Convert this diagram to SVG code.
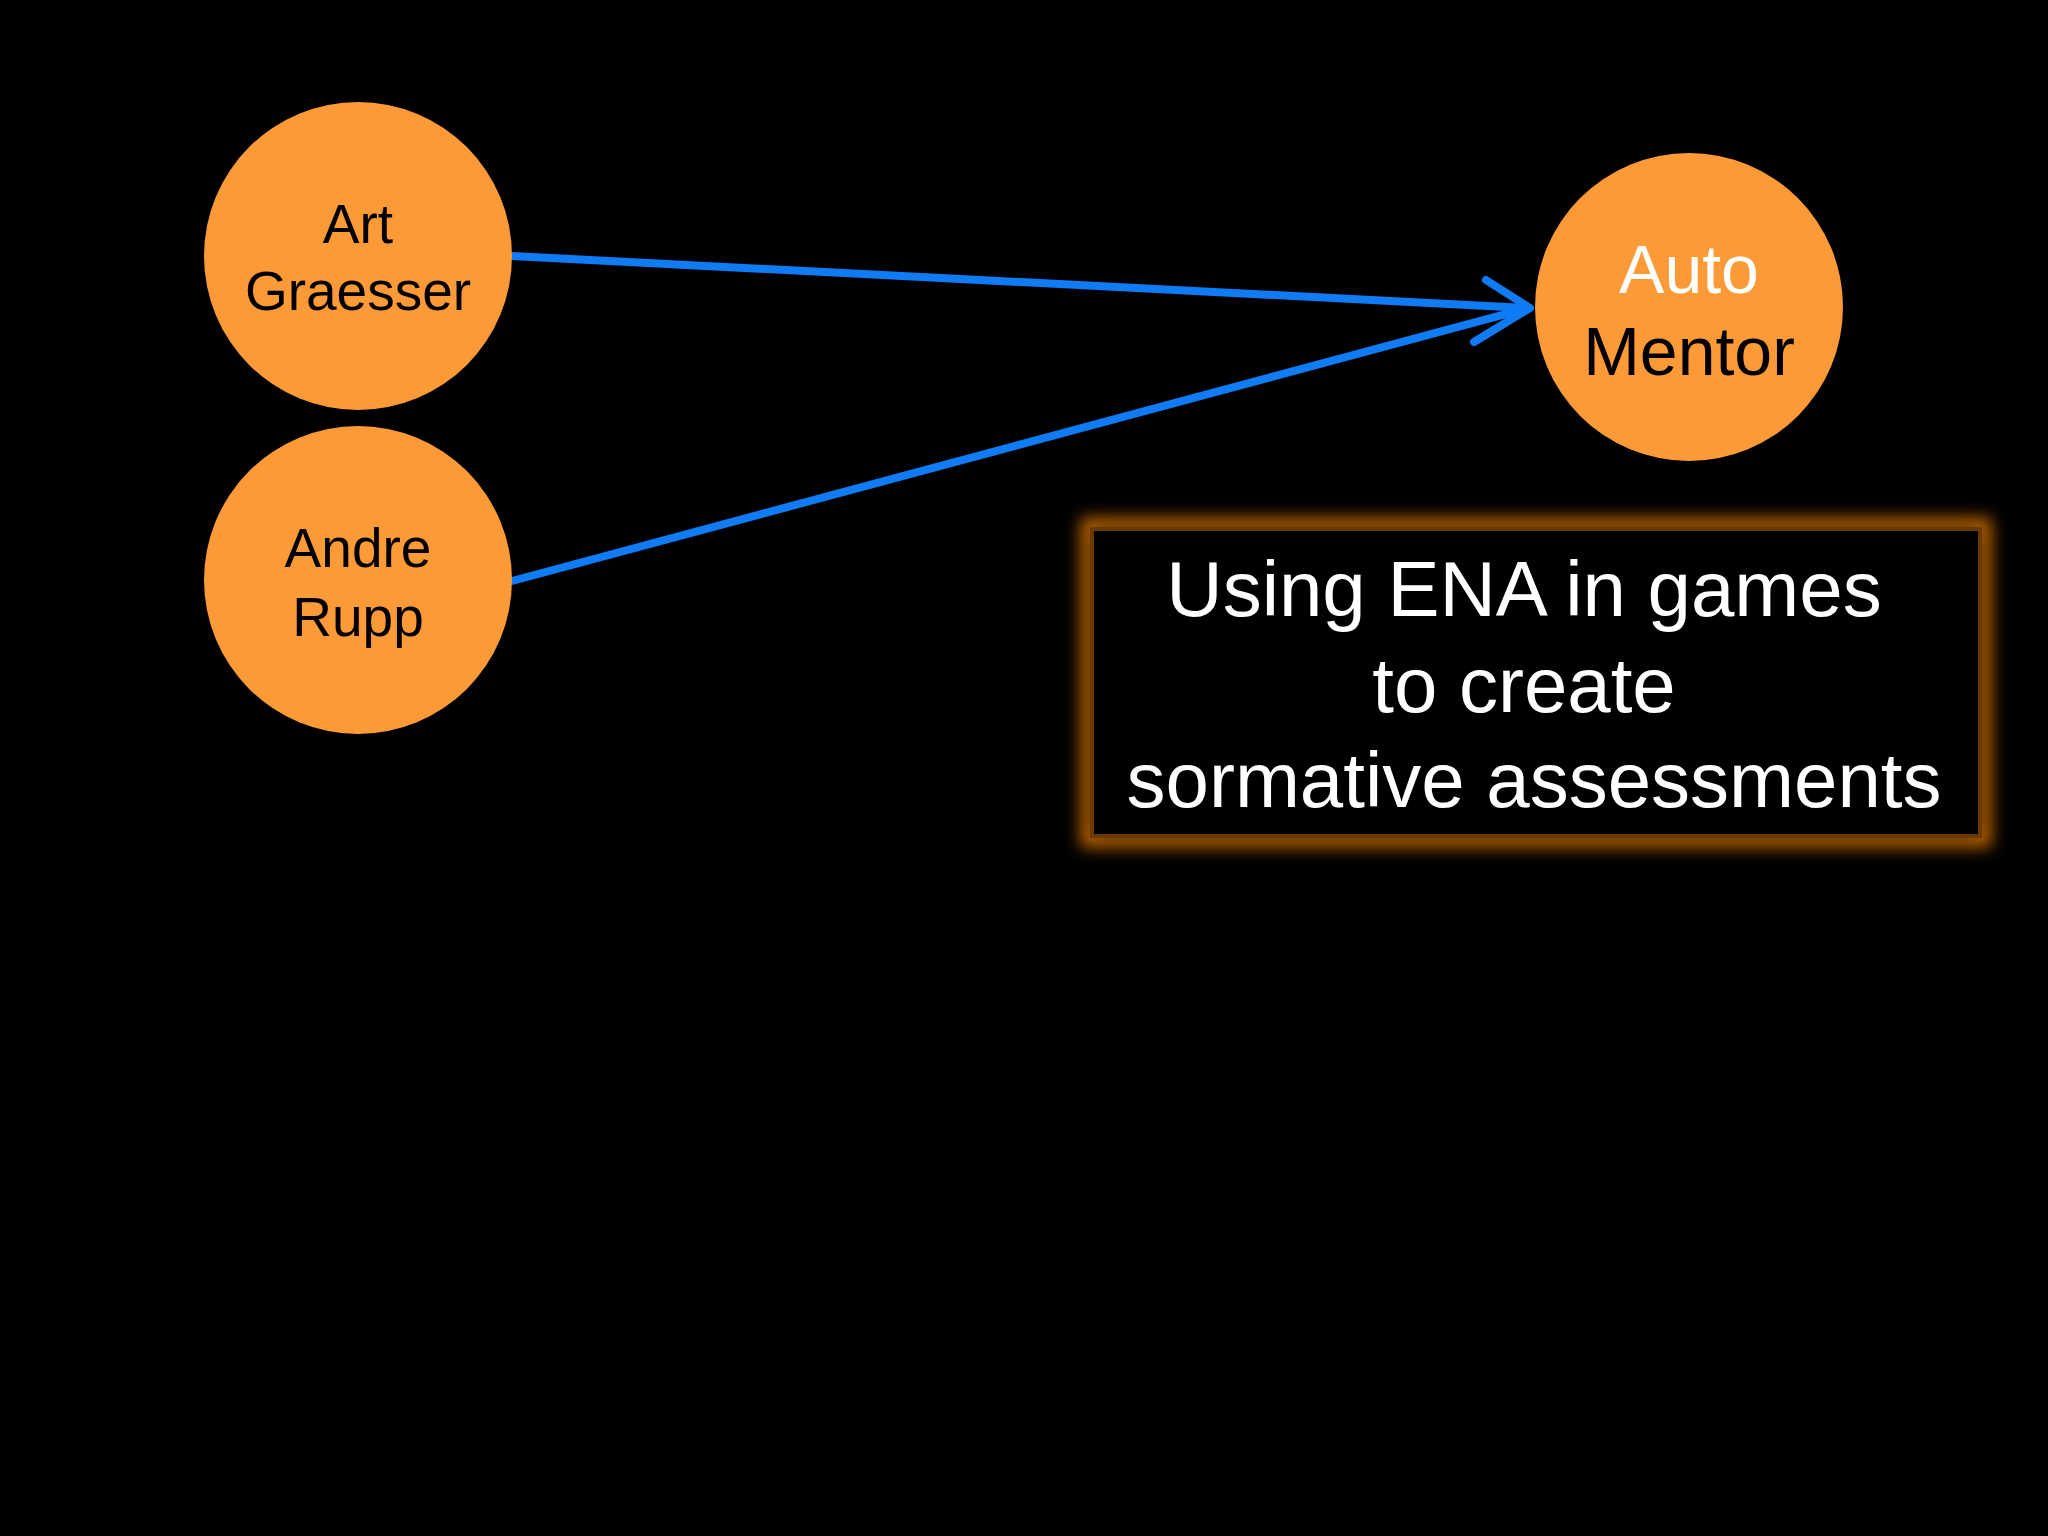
<svg xmlns="http://www.w3.org/2000/svg" width="2048" height="1536" viewBox="0 0 2048 1536">
<style>
.n{fill:#fd9a38}
.t{font-family:"Liberation Sans",Arial,sans-serif;text-anchor:middle}
.c{stroke:#0f7cf5;stroke-width:8;fill:none;stroke-linecap:round;stroke-linejoin:round}
</style>
<defs>
<filter id="g" x="-10%" y="-10%" width="120%" height="120%"><feGaussianBlur stdDeviation="8"/></filter>
</defs>
<rect width="2048" height="1536" fill="#000"/>
<g id="connectors">
<path class="c" d="M512 256 L1528 308"/>
<path class="c" d="M512 581 L1528 308"/>
<path class="c" d="M1486 280 L1530 308 L1474 342"/>
</g>
<g id="art"><circle class="n" cx="358" cy="256" r="154"/>
<text class="t" x="358" y="243" font-size="55">Art</text><text class="t" x="358" y="310" font-size="55">Graesser</text></g>
<g id="andre"><circle class="n" cx="358" cy="580" r="154"/>
<text class="t" x="358" y="567" font-size="55">Andre</text><text class="t" x="358" y="636" font-size="55">Rupp</text></g>
<g id="auto"><circle class="n" cx="1689" cy="307" r="154"/>
<text class="t" x="1689" y="293" font-size="68" fill="#fff">Auto</text><text class="t" x="1689" y="375" font-size="68">Mentor</text></g>
<g id="box">
<rect x="1088" y="525" width="896" height="315" fill="none" stroke="#c76a00" stroke-width="14" filter="url(#g)"/>
<rect x="1092" y="529" width="888" height="307" fill="#000" stroke="#6b3a00" stroke-width="4"/>
<text class="t" x="1524" y="616" font-size="78" fill="#fff">Using ENA in games</text>
<text class="t" x="1524" y="712" font-size="78" fill="#fff">to create</text>
<text class="t" x="1534" y="807" font-size="78" fill="#fff">sormative assessments</text>
</g>
</svg>
